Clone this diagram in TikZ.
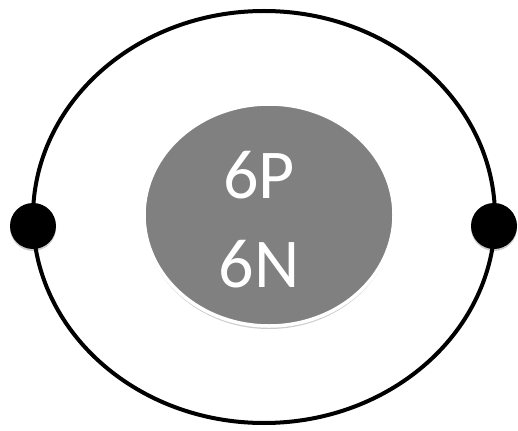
\documentclass[tikz,border=0pt]{standalone}
\usepackage{fontspec}
\setmainfont{Carlito}
\usetikzlibrary{shadows,shapes.geometric}
\begin{document}
\begin{tikzpicture}[x=1pt,y=-1pt,line join=round,line cap=round,
	orbit/.style={draw=black,line width=4pt},
	nucleus/.style={ellipse,fill=black!50,draw=white,line width=3.5pt,inner sep=0pt,
		drop shadow={shadow xshift=0pt,shadow yshift=-3pt,opacity=0.2,fill=black}},
	electron/.style={circle,fill=black,inner sep=0pt,minimum size=46pt,
		drop shadow={shadow xshift=0pt,shadow yshift=-2pt,opacity=0.2,fill=black}},
	count/.style={text=white,anchor=base,font=\fontsize{70}{70}\selectfont,inner sep=0pt}]
	\useasboundingbox (0,0) rectangle (518,430);
	\path 
	(264,217) coordinate (O)
	(33,226) coordinate (L)
	(494,226) coordinate (R)
	;
	\draw[orbit] (O) ellipse[x radius=231,y radius=206];
	\node[nucleus,minimum width=250pt,minimum height=222pt] (core) at (269,215) {};
	\node[count] (p) at (259,198) {6P};
	\node[count] (n) at (259,287) {6N};
	\foreach \x/\nm in {L/left,R/right}
	\node[electron] (e\nm) at (\x) {};
\end{tikzpicture}
\end{document}
